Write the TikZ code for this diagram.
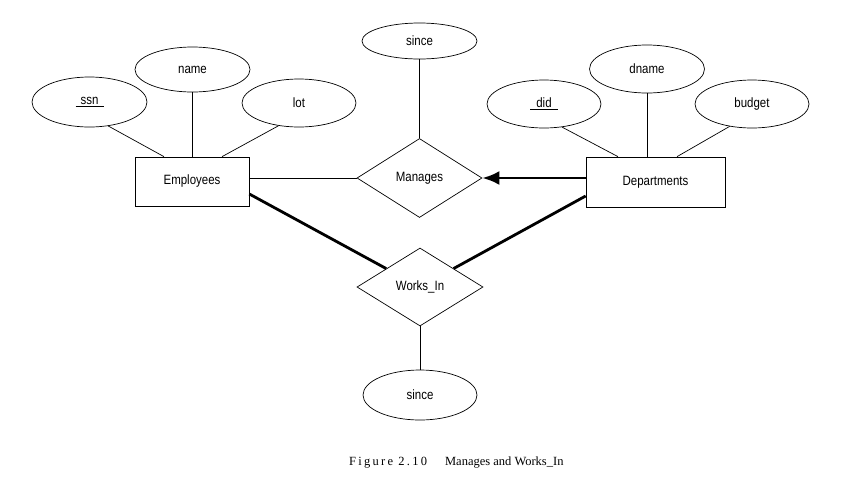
\documentclass[tikz,border=0pt]{standalone}
\usepackage{fontspec}
\setmainfont{Liberation Sans}[FakeStretch=0.85]
\newfontfamily\capfont{Liberation Serif}
\usetikzlibrary{shapes.geometric,arrows.meta}

\begin{document}
\begin{tikzpicture}[x=1pt,y=-1pt,
  every node/.style={font=\fontsize{13.5}{15}\selectfont},
  attr/.style={draw, ellipse, inner sep=0pt, line width=0.7pt},
  entity/.style={draw, rectangle, inner sep=0pt, line width=0.7pt},
  rel/.style={draw, diamond, inner sep=0pt, line width=0.7pt},
  link/.style={line width=0.7pt},
  total/.style={line width=2.8pt},
  keyarrow/.style={line width=2.8pt, -{Latex[length=17pt,width=14pt]}},
  caption/.style={font=\capfont\fontsize{12.5}{14}\selectfont, inner sep=0pt}]

\useasboundingbox (0,0) rectangle (859,488);

% entity sets
\node[entity, minimum width=114pt, minimum height=49pt] (emp)  at (192,181.5) {Employees};
\node[entity, minimum width=139pt, minimum height=50pt] (dept) at (655.5,182) {Departments};

% relationship sets
\node[rel, minimum width=125pt, minimum height=79pt] (man) at (419.5,178) {Manages};
\node[rel, minimum width=126pt, minimum height=78pt] (wi)  at (420,287)   {Works\_In};

% attributes
\node[attr, minimum width=115pt, minimum height=50pt] (ssn)    at (89.5,102)  {\underline{\makebox[28pt]{ssn}}};
\node[attr, minimum width=115pt, minimum height=45pt] (name)   at (192.5,69.5) {name};
\node[attr, minimum width=114pt, minimum height=48pt] (lot)    at (299,103)   {lot};
\node[attr, minimum width=114pt, minimum height=48pt] (did)    at (544,104)   {\underline{\makebox[28pt]{did}}};
\node[attr, minimum width=115pt, minimum height=48pt] (dname)  at (647,69)    {dname};
\node[attr, minimum width=114pt, minimum height=48pt] (budget) at (752,104)   {budget};
\node[attr, minimum width=115pt, minimum height=36pt] (since1) at (419.5,41)  {since};
\node[attr, minimum width=114pt, minimum height=50pt] (since2) at (420,395)   {since};

% attribute links
\draw[link] (ssn.-52) -- ([xshift=-28pt]emp.north);
\draw[link] (name.south) -- (name.south |- emp.north);
\draw[link] (lot.-132) -- ([xshift=30pt]emp.north);
\draw[link] (did.-52) -- ([xshift=-37.5pt]dept.north);
\draw[link] (dname.south) -- (dname.south |- dept.north);
\draw[link] (budget.-135) -- ([xshift=21.5pt]dept.north);
\draw[link] (since1.south) -- (man.north);
\draw[link] (wi.south) -- (since2.north);

% participation links
\draw[link] (man.west -| emp.east) -- (man.west);
\draw[keyarrow] (man.east -| dept.west) -- (man.east);
\draw[total] ([yshift=-12.5pt]emp.east) -- (wi);
\draw[total] ([yshift=-14pt]dept.west) -- (wi);

% caption
\node[caption, anchor=base west] (cap) at (349,465)
  {{\addfontfeature{LetterSpace=18}Figure 2.10}\hspace{18pt}Manages and Works\_In};
\end{tikzpicture}
\end{document}
